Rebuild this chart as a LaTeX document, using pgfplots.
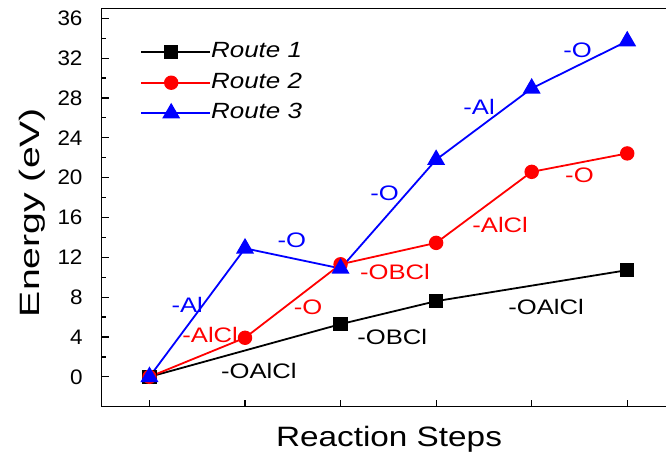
\documentclass[border=0pt]{standalone}
\usepackage{pgfplots}
\pgfplotsset{compat=1.18}
\usepackage{fontspec}
\setmainfont{Liberation Sans}
\newfontfamily\tickfont{Liberation Sans}[FakeStretch=1.07]
\newfontfamily\annfont{Liberation Sans}[FakeStretch=1.22]
\newfontfamily\xlabfont{Liberation Sans}[FakeStretch=1.19]
\newfontfamily\ylabfont{Liberation Sans}[FakeStretch=1.4]
\newfontfamily\legfont{Liberation Sans}[FakeStretch=1.18]

\pgfplotstableread{
x y
0 0
2 5.29
3 7.60
5 10.71
}\routeone
\pgfplotstableread{
x y
0 0
1 3.92
2 11.30
3 13.45
4 20.58
5 22.43
}\routetwo
\pgfplotstableread{
x y
0 0
1 12.90
2 10.88
3 21.80
4 28.96
5 33.70
}\routethree

\begin{document}
\begin{tikzpicture}
\useasboundingbox (-101.7pt,-49.3pt) rectangle (564.3pt,406.7pt);
\clip (-101.7pt,-49.3pt) rectangle (564.3pt,406.7pt);
\begin{axis}[
  at={(0pt,0pt)}, anchor=south west,
  scale only axis,
  width=573.3pt, height=398.4pt,
  xmin=-0.5, xmax=5.5,
  ymin=-3, ymax=37,
  xtick={0,1,2,3,4,5},
  xticklabels={},
  xtick pos=left,
  ytick={0,4,...,36},
  minor y tick num=1,
  ytick pos=left,
  tick align=inside,
  major tick length=7pt,
  minor tick length=4pt,
  axis line style={line width=1.4pt},
  every tick/.style={line width=1.2pt, black},
  /pgf/number format/assume math mode=true,
  yticklabel style={font=\tickfont\fontsize{21}{21}\selectfont, inner sep=0pt, xshift=-19pt},
  legend style={
    at={(axis description cs:0.067,0.916)}, anchor=north west,
    draw=none, fill=none, inner sep=0pt, row sep=10pt,
    font=\legfont\itshape\fontsize{22}{22}\selectfont,
    nodes={inner sep=0pt, text height=16pt, text depth=4.5pt},
  },
  legend cell align=left,
  legend image code/.code={%
    \draw[#1, mark repeat=2, mark phase=2] plot coordinates {(0pt,0pt) (30pt,0pt) (60pt,0pt)};
    \path (0pt,0pt) -- (69pt,0pt);
  },
  every axis plot/.append style={line width=1.8pt},
  clip=false,
]
\addplot[black, mark=square*, mark size=6.3pt, mark options={solid}] table {\routeone};
\addlegendentry{Route 1}
\addplot[red, mark=*, mark size=6.3pt] table {\routetwo};
\addlegendentry{Route 2}
\addplot[blue, mark=triangle*, mark size=8.6pt] table {\routethree};
\addlegendentry{Route 3}

\begin{scope}[every node/.style={font=\annfont\fontsize{21}{21}\selectfont, inner sep=0pt}]
% black route steps
\node[text=black] at (axis cs:1.145,0.57) {-OAlCl};
\node[text=black] at (axis cs:2.54,3.99) {-OBCl};
\node[text=black] at (axis cs:4.15,7.0) {-OAlCl};
% red route steps
\node[text=red] at (axis cs:0.635,4.19) {-AlCl};
\node[text=red] at (axis cs:1.66,7.0) {-O};
\node[text=red] at (axis cs:2.57,10.51) {-OBCl};
\node[text=red] at (axis cs:3.67,15.23) {-AlCl};
\node[text=red] at (axis cs:4.50,20.25) {-O};
% blue route steps
\node[text=blue] at (axis cs:0.395,7.2) {-Al};
\node[text=blue] at (axis cs:1.49,13.72) {-O};
\node[text=blue] at (axis cs:2.46,18.45) {-O};
\node[text=blue] at (axis cs:3.45,27.08) {-Al};
\node[text=blue] at (axis cs:4.48,32.8) {-O};
\end{scope}
\end{axis}
\node[rotate=90, anchor=base, font=\ylabfont\fontsize{28}{28}\selectfont, inner sep=0pt] at (-61.7pt,194.2pt) {Energy (eV)};
\node[anchor=base, font=\xlabfont\fontsize{28}{28}\selectfont, inner sep=0pt] at (287.3pt,-40pt) {Reaction Steps};
\end{tikzpicture}
\end{document}
